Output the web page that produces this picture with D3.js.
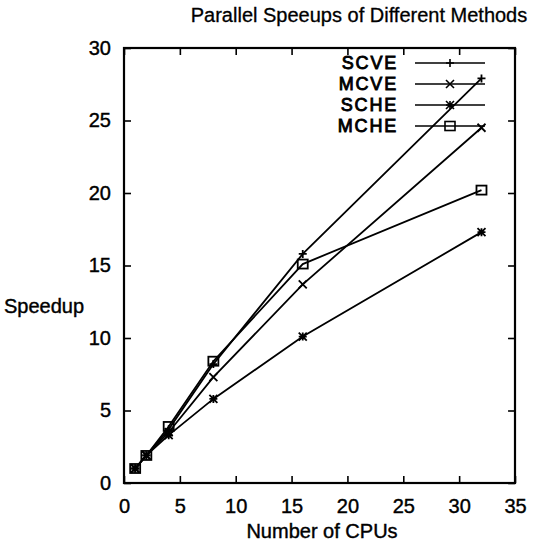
<!DOCTYPE html>
<html>
<head>
<meta charset="utf-8">
<script src="https://cdn.jsdelivr.net/npm/d3@7"></script>
<style>
  body { margin: 0; background: #fff; }
  text { font-family: "Liberation Sans", Arial, sans-serif; fill: #000; }
</style>
</head>
<body>
<div id="chart"></div>
<script>
// data
const cpus = [1, 2, 4, 8, 16, 32];
const scve = [1, 1.9, 3.7, 8.2, 15.8, 27.9];
const mcve = [1, 1.9, 3.5, 7.3, 13.7, 24.5];
const sche = [1, 1.9, 3.3, 5.8, 10.1, 17.3];
const mche = [1, 1.9, 3.9, 8.4, 15.1, 20.2];
const seriesNames = ["SCVE", "MCVE", "SCHE", "MCHE"];
const xTicks = [0, 5, 10, 15, 20, 25, 30, 35];
const yTicks = [0, 5, 10, 15, 20, 25, 30];

const width = 541, height = 546;
const margin = {top: 48, right: 26, bottom: 63, left: 124};
const innerW = width - margin.left - margin.right;
const innerH = height - margin.top - margin.bottom;

const svg = d3.select("#chart")
    .append("svg")
    .attr("width", width)
    .attr("height", height);

const g = svg.append("g")
    .attr("transform", "translate(" + margin.left + "," + margin.top + ")");

const xScale = d3.scaleLinear().domain([0, 35]).range([0, innerW]);
const yScale = d3.scaleLinear().domain([0, 30]).range([innerH, 0]);

// axes with inward ticks, mirrored on top / right
const tickLen = 7;
const styleAxis = (sel) => {
    sel.select(".domain").remove();
    sel.selectAll("line").attr("stroke", "#000").attr("stroke-width", 1.6);
};
const styleLabels = (sel) => sel
    .attr("font-size", 20)
    .attr("fill", "#000")
    .attr("stroke", "#000")
    .attr("stroke-width", 0.4);

g.append("g")
    .attr("transform", "translate(0," + innerH + ")")
    .call(d3.axisBottom(xScale).tickValues(xTicks).tickSize(-tickLen).tickPadding(16))
    .call(styleAxis)
    .selectAll("text").call(styleLabels);

g.append("g")
    .call(d3.axisTop(xScale).tickValues(xTicks).tickSize(-tickLen).tickFormat(""))
    .call(styleAxis);

g.append("g")
    .call(d3.axisLeft(yScale).tickValues(yTicks).tickSize(-tickLen).tickPadding(13))
    .call(styleAxis)
    .selectAll("text").call(styleLabels);

g.append("g")
    .attr("transform", "translate(" + innerW + ",0)")
    .call(d3.axisRight(yScale).tickValues(yTicks).tickSize(-tickLen).tickFormat(""))
    .call(styleAxis);

// frame
g.append("rect")
    .attr("width", innerW)
    .attr("height", innerH)
    .attr("fill", "none")
    .attr("stroke", "#000")
    .attr("stroke-width", 2.2);

// marker drawers
const markers = {
    SCVE: (s, x, y) => s.append("path")
        .attr("d", `M${x - 4},${y}H${x + 4}M${x},${y - 4}V${y + 4}`),
    MCVE: (s, x, y) => s.append("path")
        .attr("d", `M${x - 4},${y - 4}L${x + 4},${y + 4}M${x - 4},${y + 4}L${x + 4},${y - 4}`),
    SCHE: (s, x, y) => s.append("path")
        .attr("d", `M${x - 4},${y}H${x + 4}M${x},${y - 4}V${y + 4}M${x - 4},${y - 4}L${x + 4},${y + 4}M${x - 4},${y + 4}L${x + 4},${y - 4}`),
    MCHE: (s, x, y) => s.append("rect")
        .attr("x", x - 5).attr("y", y - 4.5).attr("width", 10).attr("height", 9)
        .attr("fill", "none")
};

const series = [scve, mcve, sche, mche];
const line = d3.line()
    .x((d, i) => xScale(cpus[i]))
    .y(d => yScale(d));

const plot = g.append("g");
series.forEach((vals, k) => {
    plot.append("path")
        .datum(vals)
        .attr("fill", "none")
        .attr("stroke", "#000")
        .attr("stroke-width", 1.8)
        .attr("d", line);
    const mg = plot.append("g").attr("stroke", "#000").attr("stroke-width", 1.8);
    vals.forEach((v, i) => markers[seriesNames[k]](mg, xScale(cpus[i]), yScale(v)));
});

// legend
const legend = g.append("g")
    .attr("transform", "translate(" + (399 - margin.left) + "," + (63 - margin.top) + ")");
seriesNames.forEach((name, k) => {
    const row = legend.append("g").attr("transform", "translate(0," + (k * 21) + ")");
    row.append("text")
        .attr("x", -1)
        .attr("y", 0)
        .attr("dy", "0.36em")
        .attr("text-anchor", "end")
        .attr("font-size", 18)
        .attr("letter-spacing", 1.8)
        .attr("stroke", "#000")
        .attr("stroke-width", 0.9)
        .text(name);
    row.append("line")
        .attr("x1", 16).attr("x2", 86)
        .attr("y1", 0).attr("y2", 0)
        .attr("stroke", "#000").attr("stroke-width", 1.5);
    const mg = row.append("g").attr("stroke", "#000").attr("stroke-width", 1.6);
    markers[name](mg, 51, 0);
});

// titles
svg.append("text")
    .attr("x", 359)
    .attr("y", 22)
    .attr("text-anchor", "middle")
    .attr("font-size", 20)
    .attr("stroke", "#000")
    .attr("stroke-width", 0.3)
    .text("Parallel Speeups of Different Methods");

svg.append("text")
    .attr("x", 4)
    .attr("y", 306)
    .attr("dy", "0.35em")
    .attr("font-size", 20)
    .attr("stroke", "#000")
    .attr("stroke-width", 0.4)
    .text("Speedup");

svg.append("text")
    .attr("x", 322)
    .attr("y", 538)
    .attr("text-anchor", "middle")
    .attr("font-size", 20)
    .attr("stroke", "#000")
    .attr("stroke-width", 0.4)
    .text("Number of CPUs");
</script>
</body>
</html>
